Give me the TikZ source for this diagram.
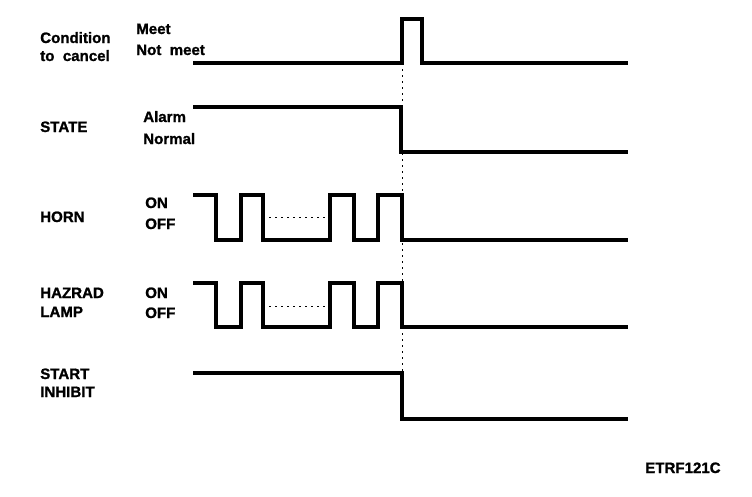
\documentclass[tikz,border=0pt]{standalone}
\usepackage{fontspec}
\setmainfont{Liberation Sans}[FakeBold=1.2]
\begin{document}
\begin{tikzpicture}[x=0.75pt,y=-0.75pt,
  sig/.style={line width=2.3pt,line join=miter},
  guide/.style={line width=0.7pt,dash pattern=on 1.5pt off 3pt},
  lbl/.style={anchor=base west,inner sep=0pt,font=\fontsize{11.3}{13}\selectfont\bfseries}]
\useasboundingbox (0,0) rectangle (752,496);
% labels
\node[lbl] (l1) at (40,43) {Condition};
\node[lbl] (l2) at (40,61) {to\ \ cancel};
\node[lbl] (l3) at (136,34) {Meet};
\node[lbl] (l4) at (136,55) {Not\ \ meet};
\node[lbl] (l5) at (40,132) {STATE};
\node[lbl] (l6) at (143,122) {Alarm};
\node[lbl] (l7) at (143,144) {Normal};
\node[lbl] (l8) at (40,222) {HORN};
\node[lbl] (l9) at (145,208) {ON};
\node[lbl] (l10) at (145,229) {OFF};
\node[lbl] (l11) at (40,298) {HAZRAD};
\node[lbl] (l12) at (40,317) {LAMP};
\node[lbl] (l13) at (145,298) {ON};
\node[lbl] (l14) at (145,318) {OFF};
\node[lbl] (l15) at (40,379) {START};
\node[lbl] (l16) at (40,397) {INHIBIT};
\node[lbl] (l17) at (645,473) {ETRF121C};
% guide
\draw[guide] (402,63) -- (402,373);
% signals
\draw[sig] (193,63) -- (402,63) -- (402,19) -- (422,19) -- (422,63) -- (628,63);
\draw[sig] (193,107) -- (401,107) -- (401,152) -- (628,152);
\draw[sig] (193,195) -- (216,195) -- (216,240) -- (241,240) -- (241,195) -- (263,195) -- (263,240) -- (330,240) -- (330,195) -- (354,195) -- (354,240) -- (378,240) -- (378,195) -- (402,195) -- (402,240) -- (628,240);
\draw[guide] (263,217) -- (330,217);
\draw[sig] (193,283) -- (216,283) -- (216,327) -- (241,327) -- (241,283) -- (263,283) -- (263,327) -- (330,327) -- (330,283) -- (354,283) -- (354,327) -- (378,327) -- (378,283) -- (402,283) -- (402,327) -- (628,327);
\draw[guide] (263,306) -- (330,306);
\draw[sig] (193,373) -- (402,373) -- (402,419) -- (628,419);
\end{tikzpicture}
\end{document}
